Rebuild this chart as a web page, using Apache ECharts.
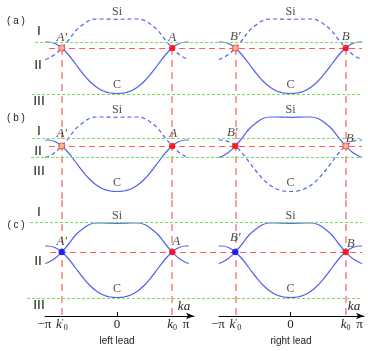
<!DOCTYPE html>
<html><head><meta charset="utf-8">
<script src="https://cdn.jsdelivr.net/npm/echarts@6/dist/echarts.min.js"></script>
<style>html,body{margin:0;padding:0;background:#fff}#c{width:368px;height:351px}</style>
</head><body><div id="c"></div>
<script>
// ---- data (k in units of pi/a, energy relative to the red Fermi level) ----
const kValues = [-1.04,-1,-0.9,-0.8,-0.7,-0.6,-0.5,-0.4,-0.3,-0.2,-0.1,0,0.1,0.2,0.3,0.4,0.5,0.6,0.7,0.8,0.9,1,1.04];
const bandC  = [0.6,0.6,0.45,0,-0.7,-1.6,-2.5,-3.3,-3.9,-4.3,-4.5,-4.55,-4.5,-4.3,-3.9,-3.3,-2.5,-1.6,-0.7,0,0.45,0.6,0.6];
const bandSi = [-1.15,-1.05,-0.65,0,0.8,1.7,2.3,2.75,2.9,2.9,2.88,2.87,2.88,2.9,2.9,2.75,2.3,1.7,0.8,0,-0.65,-1.05,-1.15];
const kCross = [-0.8, 0.8];
const fermiE = 0;
const levelsA = [0.6, -4.6];
const levelsB = [0.75, -1.1];
const levelsC = [3.0, -4.6];
const tickVals = [-1, -0.8, 0, 0.8, 1];
const tickLabels = ['{m|\u2212\u03c0}', '{k|k}{p|\u2032}{s|0}', '0', '{k|k}{s|0}', '\u03c0'];
const pointNamesL = ['A\u2032', 'A'];
const pointNamesR = ['B\u2032', 'B'];

// ---- layout / style ----
const BLUE = '#5062ee', GREEN = '#78de5c', RED = '#ff5c5c', VRED = '#f68c8c';
const rows = [
  {top:0,   height:108, min:-6.0, max:4.8, levels:levelsA, gStart:[0.024,0.015], rStart:0.066},
  {top:108, height:92,  min:-5.4, max:3.8, levels:levelsB, gStart:[0.015,0.012], rStart:0.066},
  {top:200, height:116, min:-6.4, max:5.2, levels:levelsC, gStart:[0.009,0.0],   rStart:0.069}
];
const cols = [
  {left:45,  width:149, min:-1.043, max:1.116},
  {left:219, width:145, min:-1.036, max:1.065}
];
const markerStyles = {
  hollow:{color:'#fcc489', borderColor:'#ff3a3a', borderWidth:1.1},
  red:{color:'#ff0000', borderColor:'#ff0000', borderWidth:0.5},
  blue:{color:'#0000ff', borderColor:'#0000ff', borderWidth:0.5}
};
const panels = [
  {row:0,col:0,dashed:'Si',marks:['hollow','red'],names:pointNamesL,offs:[[0,-10],[0,-10]]},
  {row:0,col:1,dashed:'Si',marks:['hollow','red'],names:pointNamesR,offs:[[0,-11],[0,-11]]},
  {row:1,col:0,dashed:'Si',marks:['hollow','red'],names:pointNamesL,offs:[[0,-12],[1,-12]]},
  {row:1,col:1,dashed:'C', marks:['red','hollow'],names:pointNamesR,offs:[[-3,-13],[4,-7]]},
  {row:2,col:0,dashed:null,marks:['blue','red'], names:pointNamesL,offs:[[0,-10],[4,-10]]},
  {row:2,col:1,dashed:null,marks:['blue','red'], names:pointNamesR,offs:[[0,-14],[5,-8]]}
];
const SERIF = 'Liberation Serif, DejaVu Serif, serif';
const SANS = 'Liberation Sans, DejaVu Sans, sans-serif';

const grids=[], xAxes=[], yAxes=[], series=[];
const pts = arr => kValues.map((k,j)=>[k,arr[j]]);
const i0 = kValues.indexOf(0);

panels.forEach((p,i)=>{
  const r=rows[p.row], c=cols[p.col];
  grids.push({left:c.left, width:c.width, top:r.top, height:r.height});
  const bottom = p.row===2;
  xAxes.push({
    gridIndex:i, type:'value', min:c.min, max:c.max, show:bottom, position:'bottom',
    splitLine:{show:false},
    axisLine:{show:true, onZero:false, symbol:['none','arrow'], symbolSize:[5,8], lineStyle:{color:'#000',width:1}},
    axisTick:{show:true, customValues:[0], inside:true, length:4, lineStyle:{color:'#000',width:1}},
    axisLabel:{
      customValues:tickVals, margin:2, color:'#222', fontFamily:SERIF, fontSize:13, hideOverlap:false,
      formatter: v => tickLabels[tickVals.indexOf(v)],
      rich:{
        m:{fontFamily:SERIF, fontSize:13, color:'#222', padding:[0,7,0,0]},
        k:{fontFamily:SERIF, fontStyle:'italic', fontSize:13, color:'#222'},
        s:{fontFamily:SERIF, fontSize:8, color:'#222', verticalAlign:'bottom', padding:[6,0,0,0]},
        p:{fontFamily:SERIF, fontSize:9, color:'#222', verticalAlign:'top', padding:[0,0,4,0]}
      }
    },
    name:'ka', nameLocation:'end', nameGap:-10,
    nameTextStyle:{fontFamily:SERIF, fontStyle:'italic', fontSize:13, color:'#222', align:'center', verticalAlign:'bottom', padding:[0,0,3,0]}
  });
  yAxes.push({gridIndex:i, type:'value', min:r.min, max:r.max, show:false, splitLine:{show:false}});

  [['C',bandC],['Si',bandSi]].forEach(([b,arr])=>{
    series.push({type:'line', xAxisIndex:i, yAxisIndex:i, data:pts(arr), smooth:0.35,
      showSymbol:false, symbol:'none', silent:true, z:3,
      lineStyle:{color:BLUE, width:1.2, type: p.dashed===b ? [4,3] : 'solid'}});
  });
  // vertical red lines at k0', k0
  series.push({type:'line', xAxisIndex:i, yAxisIndex:i, data:[], z:2,
    markLine:{silent:true, symbol:'none', animation:false, label:{show:false},
      lineStyle:{color:VRED, width:1.6, type:[7,5]},
      data:kCross.map(k=>[{coord:[k, p.row===0 ? fermiE : r.max]},{coord:[k, r.min]}])}});
  // crossing points
  series.push({type:'scatter', xAxisIndex:i, yAxisIndex:i, z:8, silent:true,
    data:kCross.map((k,j)=>({value:[k,fermiE], symbolSize:6, itemStyle:markerStyles[p.marks[j]],
      label:{show:true, formatter:p.names[j], position:'inside', offset:p.offs[j], color:'#222',
        fontFamily:SERIF, fontStyle:'italic', fontSize:13}}))});
  // band names
  series.push({type:'scatter', xAxisIndex:i, yAxisIndex:i, z:7, silent:true, symbolSize:1,
    itemStyle:{color:'rgba(0,0,0,0)'},
    label:{show:true, position:'inside', fontFamily:SERIF, fontSize:12, color:'#222'},
    data:[{value:[0,bandSi[i0]], label:{formatter:'Si', offset:[0,-7]}},
          {value:[0,bandC[i0]], label:{formatter:'C', offset:[0,-8.5]}}]});
});

rows.forEach((r,ri)=>{
  const gi = grids.length;
  grids.push({left:27, right:6, top:r.top, height:r.height});
  xAxes.push({gridIndex:gi, type:'value', min:0, max:1, show:false, splitLine:{show:false}});
  yAxes.push({gridIndex:gi, type:'value', min:r.min, max:r.max, show:false, splitLine:{show:false}});
  const ml = r.levels.map((lv,j)=>[{coord:[r.gStart[j], lv], lineStyle:{color:GREEN, width:1.1, type:[3,2]}},{coord:[1, lv]}]);
  ml.push([{coord:[r.rStart, fermiE], lineStyle:{color:RED, width:1.2, type:[6,4]}},{coord:[1, fermiE]}]);
  series.push({type:'line', xAxisIndex:gi, yAxisIndex:gi, data:[], z:1,
    markLine:{silent:true, symbol:'none', animation:false, label:{show:false}, data:ml}});
});

const txt = (t,x,y,font)=>({type:'text', x:x, y:y, silent:true,
  style:{text:t, fill:'#222', font:font, align:'center', verticalAlign:'middle'}});
const roman = '13px DejaVu Sans', tagF = '10px ' + SANS;
const graphic = [
  txt('( a )',16,21,tagF), txt('I',39,32,roman), txt('II',38,66,roman), txt('III',39,102,roman),
  txt('( b )',16,118,tagF), txt('I',39,132,roman), txt('II',38,152,roman), txt('III',39,172,roman),
  txt('I',39,213,roman), txt('( c )',16,225,tagF), txt('II',38,262,roman), txt('III',39,306,roman),
  txt('left lead',117,341,'10px ' + SANS), txt('right lead',291,341,'10px ' + SANS)
];

const chart = echarts.init(document.getElementById('c'));
chart.setOption({animation:false, backgroundColor:'#fff', grid:grids, xAxis:xAxes, yAxis:yAxes, series:series, graphic:graphic});
</script></body></html>
